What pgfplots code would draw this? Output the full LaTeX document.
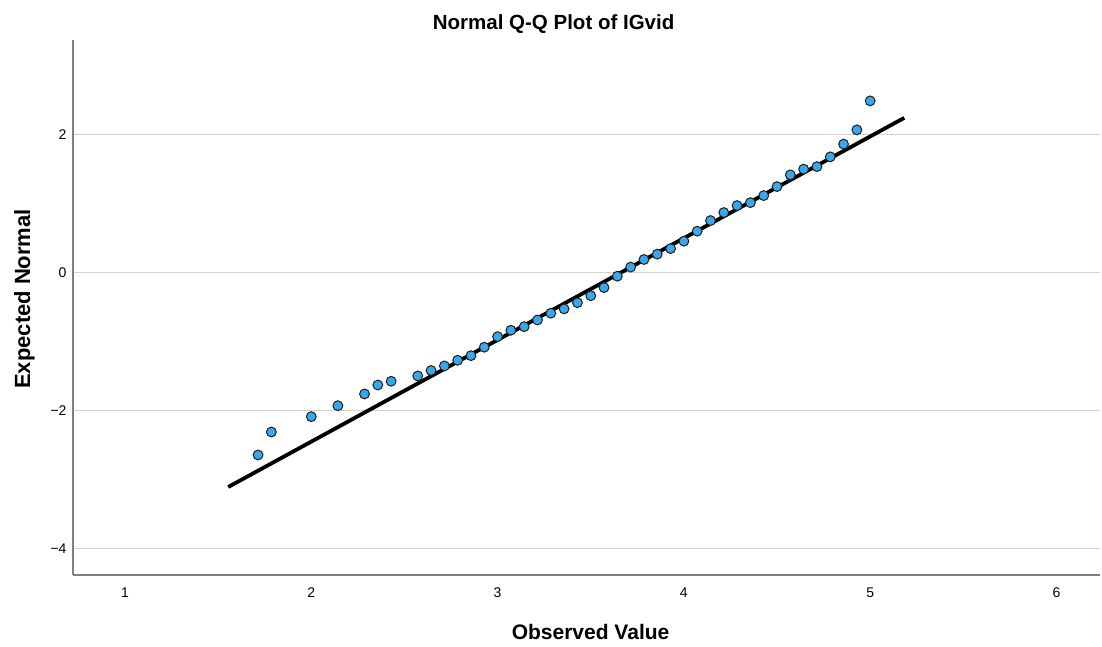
\documentclass[border=0pt]{standalone}
\usepackage{fontspec}
\setmainfont{Liberation Sans}
\usepackage{pgfplots}
\pgfplotsset{compat=1.18}
\usepackage{pgfplotstable}

\definecolor{ptfill}{RGB}{56,167,236}
\definecolor{ptedge}{RGB}{30,30,30}
\definecolor{gridgray}{RGB}{210,210,210}
\definecolor{axisgray}{RGB}{128,128,128}

% observed value vs expected normal quantile
\pgfplotstableread{
obs     expn
1.7143  -2.642
1.7857  -2.309
2.0000  -2.087
2.1429  -1.928
2.2857  -1.758
2.3571  -1.628
2.4286  -1.574
2.5714  -1.497
2.6429  -1.418
2.7143  -1.352
2.7857  -1.270
2.8571  -1.203
2.9286  -1.081
3.0000  -0.928
3.0714  -0.835
3.1429  -0.783
3.2143  -0.686
3.2857  -0.588
3.3571  -0.526
3.4286  -0.436
3.5000  -0.335
3.5714  -0.217
3.6429  -0.052
3.7143   0.080
3.7857   0.190
3.8571   0.268
3.9286   0.348
4.0000   0.455
4.0714   0.600
4.1429   0.754
4.2143   0.870
4.2857   0.971
4.3571   1.014
4.4286   1.116
4.5000   1.246
4.5714   1.416
4.6429   1.499
4.7143   1.536
4.7857   1.677
4.8571   1.861
4.9286   2.068
5.0000   2.488
}\qqdata

% reference line of the normal distribution
\pgfplotstableread{
obs     expn
1.554   -3.106
5.183    2.242
}\refline

\begin{document}
\begin{tikzpicture}
\begin{axis}[
  at={(0pt,0pt)}, anchor=south west,
  scale only axis,
  width=1027pt, height=535pt,
  xmin=0.7209, xmax=6.2335,
  ymin=-4.381, ymax=3.370,
  axis x line=bottom, axis y line=left,
  axis line style={axisgray, line width=1.4pt, -},
  xtick={1,2,3,4,5,6},
  ytick={-4,-2,0,2},
  yticklabels={−4,−2,0,2},
  major tick length=0pt,
  tick style={draw=none},
  ymajorgrids,
  grid style={gridgray, line width=1.4pt},
  /pgf/number format/assume math mode=true,
  tick label style={font=\fontsize{14}{16}\selectfont, text=black},
  xticklabel style={yshift=-9pt},
  yticklabel style={xshift=-3pt},
  title={\textbf{Normal Q-Q Plot of IGvid}},
  title style={at={(axis description cs:0.468,1.0187)}, anchor=center,
    font=\fontsize{20.5}{24}\selectfont},
  xlabel={\textbf{Observed Value}},
  xlabel style={at={(axis description cs:0.504,-0.1065)}, anchor=center,
    font=\fontsize{21}{24}\selectfont},
  ylabel={\textbf{Expected Normal}},
  ylabel style={at={(axis description cs:-0.0472,0.516)}, anchor=center,
    rotate=0, font=\fontsize{22}{24}\selectfont},
  clip=false,
]
\addplot[black, line width=3.8pt, line cap=butt] table[x=obs, y=expn] {\refline};
\addplot[only marks, mark=*, mark size=4.9pt,
  mark options={fill=ptfill, draw=ptedge, line width=1pt}]
  table[x=obs, y=expn] {\qqdata};
\end{axis}
\pgfresetboundingbox
\path (-73pt,-71pt) rectangle (1029pt,575pt);
\end{tikzpicture}
\end{document}
